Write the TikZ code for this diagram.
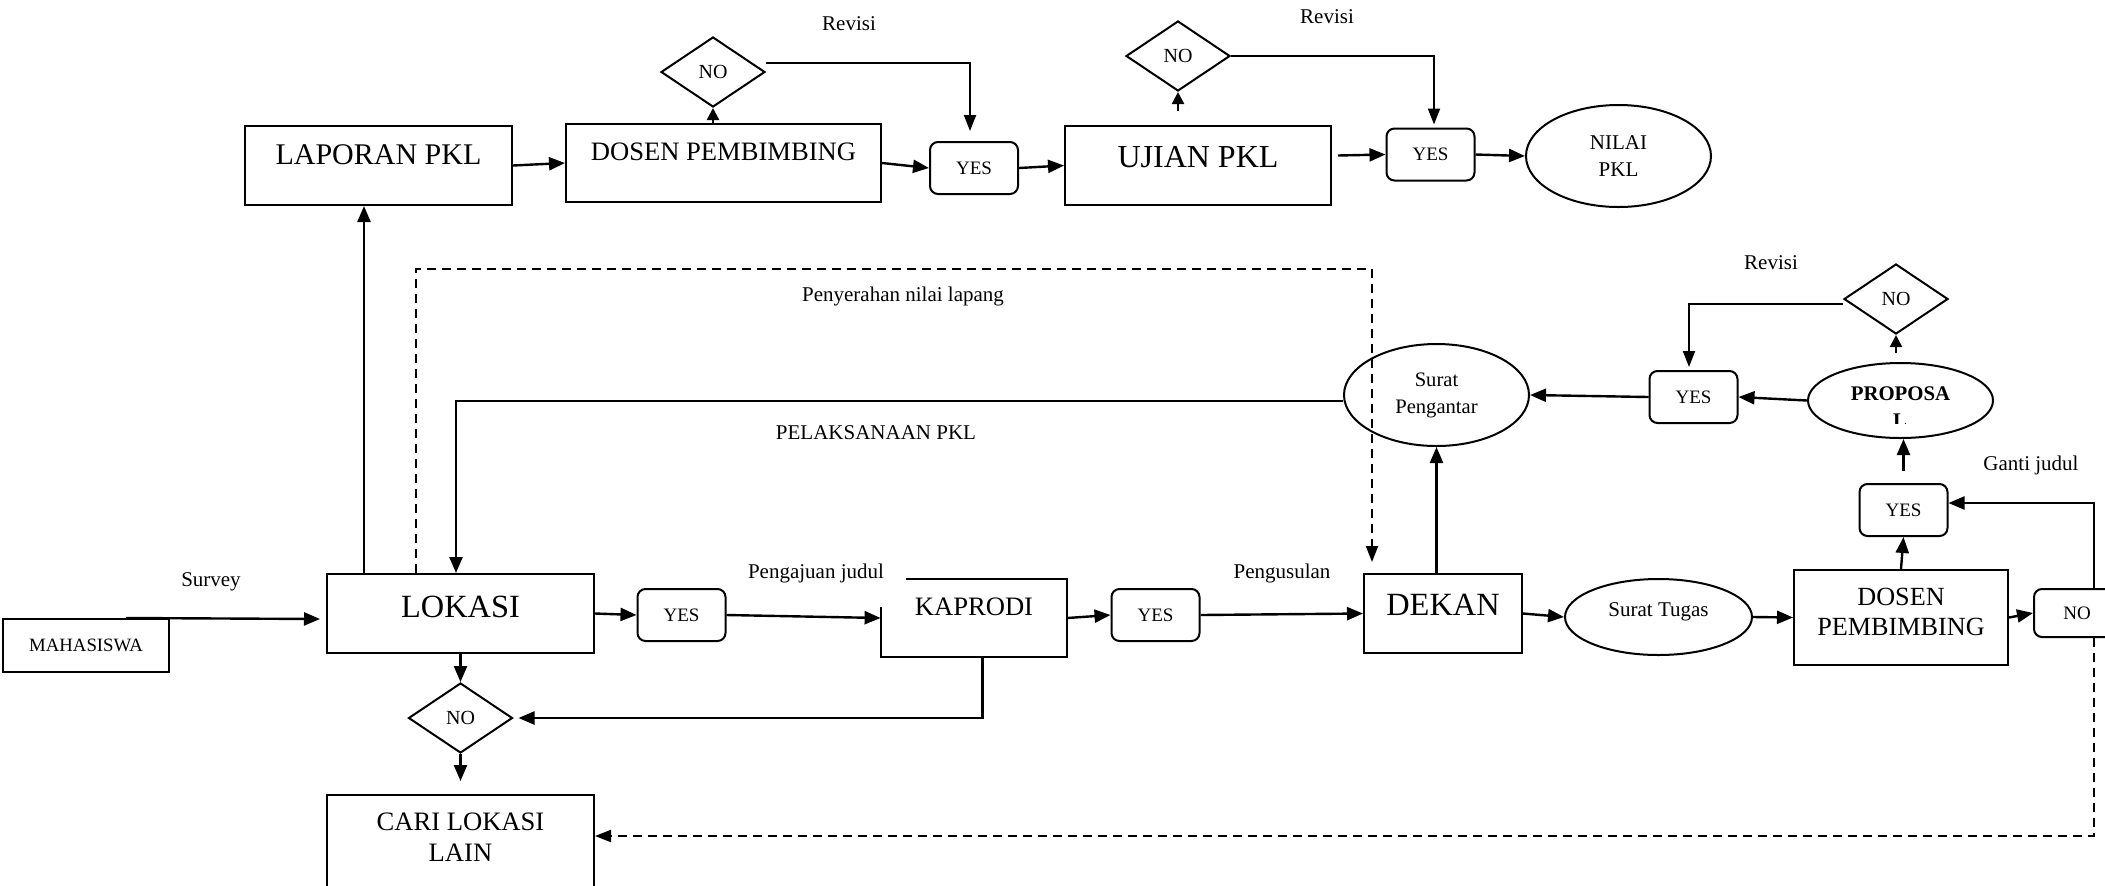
\documentclass[tikz,border=0pt]{standalone}
\usepackage{fontspec}
\setmainfont{Liberation Serif}
\usetikzlibrary{arrows.meta,shapes.geometric,calc}
\begin{document}
\begin{tikzpicture}[x=0.5pt,y=-0.5pt,
  box/.style={draw,line width=1pt,rectangle,inner sep=0pt},
  yesbox/.style={draw,line width=1pt,rounded corners=4pt,inner sep=0pt,minimum width=44pt,minimum height=26pt,font=\fontsize{9.5}{11}\selectfont},
  dia/.style={draw,line width=1pt,diamond,inner sep=0pt,minimum width=52pt,minimum height=35pt,font=\fontsize{10}{11}\selectfont},
  ell/.style={draw,line width=1pt,ellipse,inner sep=0pt,align=center},
  arr/.style={line width=1.2pt,-{Triangle[length=8pt,width=6.5pt]}},
  revarr/.style={line width=1pt,-{Triangle[length=8pt,width=6pt]}},
  dasharr/.style={line width=1pt,dash pattern=on 4.5pt off 3pt,-{Triangle[length=8pt,width=6pt]}},
  lbl/.style={font=\fontsize{10.5}{12}\selectfont},
  big/.style={font=\fontsize{16.2}{19}\selectfont},
  mid/.style={font=\fontsize{13.3}{15.5}\selectfont,align=center},
]
\useasboundingbox (0,0) rectangle (2105,885);
\fill[white] (0,0) rectangle (2105,885);
\clip (0,0) rectangle (2105,885);

% top row
\node[box,minimum width=133.5pt,minimum height=39.5pt,label={[font=\fontsize{15}{18}\selectfont,yshift=5.25pt]center:LAPORAN PKL}] (lap) at (378.5,165.5) {};
\node[box,minimum width=157.5pt,minimum height=39pt,label={[mid,yshift=5.5pt]center:DOSEN PEMBIMBING}] (dpa) at (723.5,163) {};
\node[dia] (noa) at (713,72) {NO};
\node[yesbox] (yesa) at (974,168) {YES};
\node[lbl] (reva) at (849,24) {Revisi};
\node[box,minimum width=133pt,minimum height=39.5pt,label={[font=\fontsize{16}{19}\selectfont,yshift=4.25pt]center:UJIAN PKL}] (uji) at (1198,165.5) {};
\node[dia] (nob) at (1178,56) {NO};
\node[lbl] (revb) at (1327,17) {Revisi};
\node[yesbox] (yesb) at (1430.5,154.5) {YES};
\node[ell,minimum width=92.5pt,minimum height=51pt,font=\fontsize{10.5}{13.5}\selectfont] (nil) at (1618.5,156) {NILAI\\PKL};

% middle
\node[lbl] (peny) at (903,296) {Penyerahan nilai lapang};
\node[lbl] (pel) at (876,433) {PELAKSANAAN PKL};
\node[ell,minimum width=92.5pt,minimum height=51pt,font=\fontsize{10.3}{13.5}\selectfont] (sp) at (1436.5,395) {Surat\\Pengantar};
\node[yesbox] (yesc) at (1693.5,397) {YES};
\node[ell,minimum width=92.5pt,minimum height=37.5pt,label={[font=\bfseries\fontsize{10.4}{12}\selectfont,yshift=3.25pt]center:PROPOSA}] (prop) at (1900.5,400.5) {};
\begin{scope}
\clip (1850,405) rectangle (1950,423);
\node[font=\bfseries\fontsize{10.4}{12}\selectfont] (propl) at (1900,421) {L};
\end{scope}
\node[dia] (noc) at (1896,299) {NO};
\node[lbl] (revc) at (1771,263) {Revisi};
\node[yesbox] (yesd) at (1903.5,510) {YES};
\node[lbl] (ganti) at (2031,465) {Ganti judul};

% bottom row
\node[box,minimum width=83pt,minimum height=26.5pt,font=\fontsize{9.4}{11}\selectfont] (mhs) at (86,645.5) {MAHASISWA};
\node[lbl] (surv) at (211,582) {Survey};
\node[box,minimum width=133.5pt,minimum height=39.5pt,label={[big,yshift=3.25pt]center:LOKASI}] (lok) at (460.5,613.5) {};
\node[yesbox] (yese) at (681.5,615) {YES};
\node[minimum width=93pt,minimum height=39pt,inner sep=0pt,label={[mid,yshift=5.5pt]center:KAPRODI}] (kap) at (974,618) {};
\node[lbl] (penga) at (816,573) {Pengajuan judul};
\node[dia] (nod) at (460.5,718) {NO};
\node[box,minimum width=133.5pt,minimum height=55pt,label={[mid,yshift=6.25pt]center:{CARI LOKASI\\LAIN}}] (cari) at (460.5,850) {};
\node[yesbox] (yesf) at (1155.5,615) {YES};
\node[lbl] (pengu) at (1282,573) {Pengusulan};
\node[box,minimum width=79pt,minimum height=39.5pt,label={[big,yshift=4.25pt]center:DEKAN}] (dek) at (1443,613.5) {};
\node[ell,minimum width=93.5pt,minimum height=38pt,label={[font=\fontsize{10.5}{12}\selectfont,yshift=2.5pt]center:Surat Tugas}] (st) at (1658.5,617) {};
\node[box,minimum width=107pt,minimum height=47.5pt,label={[align=center,font=\fontsize{13.1}{15}\selectfont,yshift=2.75pt]center:{DOSEN\\PEMBIMBING}}] (dpb) at (1901,617.5) {};
\node[draw,line width=1pt,rounded corners=4pt,minimum width=43pt,minimum height=24pt,inner sep=0pt,font=\fontsize{9.5}{11}\selectfont] (noe) at (2077,613) {NO};

% KAPRODI box with open top-left corner
\draw[line width=1pt] ($(kap.north west)+(25,0)$) -- (kap.north east) -- (kap.south east) -- (kap.south west) -- ($(kap.north west)+(0,28)$);

% connectors top
\draw[arr] ($(lok.north west)+(38,0)$) -- ($(lap.south west)+(120,0)$);
\draw[arr] (lap.east) -- (dpa.west);
\draw[line width=1.2pt,-{Triangle[length=6pt,width=6pt]}] (noa.south |- dpa.north) -- (noa.south);
\draw[revarr] ($(noa.east)+(0,-9)$) -| ($(yesa.north)+(-4,-10)$);
\draw[arr] (dpa.east) -- (yesa.west);
\draw[arr] (yesa.east) -- (uji.west);
\draw[line width=1.2pt,-{Triangle[length=6pt,width=6pt]},shorten <=7pt] (nob.south |- uji.north) -- (nob.south);
\draw[revarr] (nob.east) -| ($(yesb.north)+(3.5,-3)$);
\draw[arr] ($(uji.east)+(6,-10)$) -- (yesb.west);
\draw[arr] (yesb.east) -- (nil.west);

% connectors middle
\draw[dasharr] ($(lok.north west)+(90,0)$) |- ($(dek.north west)+(9,-304)$) -- ($(dek.north west)+(9,-11)$);
\draw[arr] ($(sp.west)+(0,6)$) -| ($(lok.north west)+(130,0)$);
\draw[arr] (sp.south |- dek.north) -- (sp.south);
\draw[arr] (yesc.west) -- (sp.east);
\draw[arr] (prop.west) -- (yesc.east);
\draw[line width=1.2pt,-{Triangle[length=6pt,width=6pt]},shorten <=4.5pt] (noc.south |- prop.north) -- (noc.south);
\draw[revarr] ($(noc.west)+(0,5)$) -| ($(yesc.north)+(-4.5,-3)$);
\draw[arr,shorten <=6pt] (yesd.north) -- (yesd.north |- prop.south);
\draw[arr] ($(noe.north west)+(61,0)$) |- ($(yesd.east)+(0,-7)$);

% connectors bottom
\draw[arr] ($(mhs.north west)+(124,0)$) -- ($(lok.west)+(-6,5.5)$);
\draw[arr] (lok.east) -- (yese.west);
\draw[arr] (yese.east) -- (kap.west);
\draw[arr] ($(kap.south west)+(102,0)$) |- ($(nod.east)+(5,0)$);
\draw[arr] (lok.south) -- (nod.north);
\draw[arr,shorten >=6.5pt] (nod.south) -- (cari.north);
\draw[dasharr] ($(noe.south west)+(61,0)$) |- ($(cari.east)+(0,-14)$);
\draw[arr] (kap.east) -- (yesf.west);
\draw[arr] (yesf.east) -- (dek.west);
\draw[arr] (dek.east) -- (st.west);
\draw[arr] (st.east) -- (dpb.west);
\draw[arr] (dpb.north) -- (yesd.south);
\draw[arr] (dpb.east) -- (noe.west);
\end{tikzpicture}
\end{document}
